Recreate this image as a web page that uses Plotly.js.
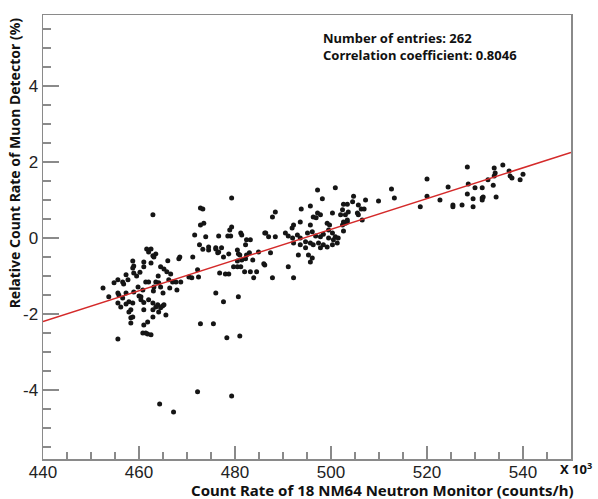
<!DOCTYPE html>
<html>
<head>
<meta charset="utf-8">
<script src="https://cdn.plot.ly/plotly-3.0.1.min.js"></script>
<style>html,body{margin:0;padding:0;background:#fff;}#chart{width:598px;height:499px;}</style>
</head>
<body>
<div id="chart"></div>
<script>
// Neutron monitor count rate (x10^3 counts/h) for each entry
const neutronRate = [
  // low-rate cluster
  455.6,454.8,456.8,457.7,457.3,458.9,458.9,458.7,461.0,462.5,461.0,464.5,465.2,465.8,466.6,461.6,462.5,463.5,462.9,461.4,
  462.0,463.5,464.1,466.2,467.7,468.7,470.4,472.4,472.2,468.5,468.3,471.2,467.9,466.4,464.5,463.1,459.8,458.9,457.3,455.6,
  452.5,453.7,455.6,456.2,457.9,458.3,460.0,460.4,462.0,462.9,461.0,462.9,463.9,464.9,465.6,464.1,458.3,458.3,462.9,461.8,
  461.0,460.8,461.8,462.5,455.6,462.9,
  460.8,456.6,467.0,455.8,456.6,457.3,458.7,460.4,461.0,463.5,464.5,465.2,457.9,458.7,461.4,462.0,463.1,458.7,459.5,460.2,
  466.0,464.0,465.0,463.0,
  // mid-low region
  471.6,473.9,476.6,478.5,472.6,474.5,476.0,476.4,477.6,476.0,477.6,472.8,475.5,478.3,478.0,476.8,481.0,472.2,479.3,464.3,
  467.2,479.3,472.8,473.3,473.5,472.8,479.3,481.2,481.4,482.4,483.2,482.2,480.5,480.7,482.4,483.0,483.7,486.2,486.2,479.7,
  480.5,481.2,482.0,483.2,484.5,483.9,478.7,480.5,481.4,480.7,484.9,487.8,492.2,491.1,478.9,479.1,473.3,474.5,476.0,476.6,
  477.2,478.7,481.0,482.2,471.0,
  // central region
  497.2,500.9,498.2,503.4,488.4,487.8,493.8,495.7,497.2,497.8,496.3,496.9,500.3,502.0,493.6,492.2,491.9,495.7,499.2,499.7,
  503.4,503.0,486.4,487.0,488.4,490.5,491.1,492.0,493.0,493.6,495.1,496.1,496.8,497.8,498.4,499.5,500.3,500.9,501.5,499.5,
  500.5,492.2,493.6,494.7,495.7,496.3,497.4,498.4,493.2,495.3,496.1,495.7,487.4,486.0,494.7,497.8,499.2,500.3,501.3,
  // upper-mid region
  520.0,512.6,513.2,504.7,507.2,509.9,520.0,518.6,522.7,502.6,504.5,505.7,506.3,506.9,502.4,503.6,503.0,505.5,505.7,506.5,
  502.6,503.4,502.4,502.6,
  // high-rate region
  528.4,534.0,535.8,534.2,534.0,537.1,537.3,537.7,540.0,539.4,524.4,528.6,532.7,533.8,530.0,531.5,528.4,529.6,531.5,531.7,
  531.5,534.4,525.4,525.4,527.3,529.6
];
// Relative count rate of muon detector (%) for each entry
const muonRelative = [
  -1.10,-1.18,-1.21,-1.10,-0.97,-0.92,-0.74,-0.61,-0.63,-0.66,-0.76,-0.76,-0.82,-0.89,-0.95,-0.29,-0.29,-0.42,-0.47,-1.16,
  -1.16,-1.16,-1.18,-1.10,-1.16,-1.16,-1.03,-1.03,-0.84,-0.50,-0.55,-0.50,-1.37,-1.32,-1.29,-1.29,-1.29,-1.42,-1.45,-1.45,
  -1.32,-1.55,-1.71,-1.82,-1.68,-1.89,-1.53,-1.63,-1.63,-1.71,-1.89,-1.89,-1.76,-1.79,-2.03,-1.95,-2.10,-2.24,-2.08,-2.21,
  -2.29,-2.50,-2.53,-2.55,-2.66,0.61,
  -1.37,-1.16,-1.16,-1.50,-1.58,-1.74,-1.71,-1.55,-1.70,-1.82,-1.84,-1.76,-1.95,-2.08,-2.50,-0.37,-0.50,-0.79,-1.00,-0.90,
  -0.60,-1.00,-1.45,-1.40,
  0.08,0.03,0.05,0.05,-0.18,-0.24,-0.29,-0.39,-0.50,-1.45,-1.68,-2.26,-2.26,-2.63,-0.95,-0.92,-2.58,-4.05,-4.16,-4.37,
  -4.58,1.05,0.79,0.76,0.39,0.34,0.29,0.13,0.08,-0.05,-0.05,-0.18,-0.32,-0.42,-0.45,-0.39,-0.58,0.13,-0.71,-0.76,
  -0.76,-0.76,-0.89,-0.89,-0.89,-1.05,-0.95,-0.61,-0.58,-1.55,-0.37,-1.05,-1.05,-0.76,0.21,0.05,-0.30,-0.32,-0.26,-0.37,
  -0.26,-0.42,-0.45,-0.55,-1.05,
  1.26,1.32,1.03,0.89,0.68,0.55,0.76,0.84,0.66,0.61,0.55,0.53,0.66,0.61,0.42,0.34,0.26,0.34,0.39,0.34,
  0.47,0.39,0.13,0.03,0.03,0.13,0.05,0.00,0.08,0.00,0.13,0.16,0.05,0.03,0.10,0.21,0.13,0.03,0.00,0.00,
  -0.05,-0.13,-0.18,-0.10,-0.13,-0.18,-0.13,-0.18,-0.45,-0.45,-0.53,-0.63,-0.39,-0.68,-0.26,-0.26,-0.24,-0.18,-0.13,
  1.55,1.29,1.05,1.10,1.00,0.97,1.10,0.82,1.00,0.89,0.95,0.87,0.76,0.76,0.74,0.68,0.61,0.66,0.61,0.47,
  0.42,0.42,0.34,0.18,
  1.87,1.84,1.92,1.71,1.63,1.76,1.63,1.58,1.68,1.53,1.34,1.42,1.53,1.39,1.32,1.32,1.16,1.03,1.05,1.08,
  1.00,1.08,0.87,0.82,0.87,0.82
];
// Linear fit line end points
const fitX = [440, 550];
const fitY = [-2.2, 2.25];

const xTickVals = [440, 460, 480, 500, 520, 540];
const yTickVals = [-4, -2, 0, 2, 4];
const statsLines = ["Number of entries: 262", "Correlation coefficient: 0.8046"];
const xTitle = "Count Rate of 18 NM64 Neutron Monitor (counts/h)";
const yTitle = "Relative Count Rate of Muon Detector (%)";
const xScaleLabel = "X 10<sup>3</sup>";

const frameColor = '#8a8a8a';
const fontFam = '"Noto Sans", "Open Sans", sans-serif';

const traces = [
  {
    type: 'scatter', mode: 'markers', x: neutronRate, y: muonRelative,
    marker: {color: '#151515', size: 5, line: {width: 0}},
    hoverinfo: 'x+y', showlegend: false
  },
  {
    type: 'scatter', mode: 'lines', x: fitX, y: fitY,
    line: {color: '#d42a2a', width: 1.5},
    hoverinfo: 'skip', showlegend: false
  }
];

const axisCommon = {
  showgrid: false, zeroline: false, showline: true, mirror: true,
  linecolor: frameColor, linewidth: 1.5,
  ticks: 'inside', tickcolor: frameColor, tickwidth: 1.3,
  tickfont: {family: '"Liberation Sans", Arial, sans-serif', size: 17, color: '#222'},
  tickmode: 'array'
};

const layout = {
  width: 598, height: 499,
  margin: {l: 43, r: 27, t: 15, b: 40},
  paper_bgcolor: '#fff', plot_bgcolor: '#fff',
  showlegend: false,
  xaxis: Object.assign({}, axisCommon, {
    range: [440, 550], tickvals: xTickVals, ticktext: xTickVals.map(String),
    ticklen: 13, ticklabelstandoff: -3,
    minor: {dtick: 5, tick0: 440, ticks: 'inside', ticklen: 7, tickcolor: frameColor, tickwidth: 1.3, showgrid: false}
  }),
  yaxis: Object.assign({}, axisCommon, {
    range: [-5.82, 5.87], tickvals: yTickVals, ticktext: yTickVals.map(String),
    ticklen: 16,
    minor: {dtick: 0.5, tick0: 0, ticks: 'inside', ticklen: 8, tickcolor: frameColor, tickwidth: 1.3, showgrid: false}
  }),
  annotations: [
    {xref: 'paper', yref: 'paper', x: 0.526, y: 0.972, xanchor: 'left', yanchor: 'top', align: 'left',
     showarrow: false, text: '<b>' + statsLines.join('<br>') + '</b>',
     font: {family: fontFam, size: 13, color: '#111'}},
    {xref: 'paper', yref: 'paper', x: 1.009, y: -0.07, xanchor: 'right', yanchor: 'middle',
     showarrow: false, text: '<b>' + xTitle + '</b>', font: {family: fontFam, size: 15, color: '#111'}},
    {xref: 'paper', yref: 'paper', x: -0.054, y: 0.667, xanchor: 'center', yanchor: 'middle', textangle: -90,
     showarrow: false, text: '<b>' + yTitle + '</b>', font: {family: fontFam, size: 14, color: '#111'}},
    {xref: 'paper', yref: 'paper', x: 1.01, y: -0.022, xanchor: 'center', yanchor: 'middle',
     showarrow: false, text: '<b>' + xScaleLabel + '</b>', font: {family: fontFam, size: 13, color: '#111'}}
  ]
};

Plotly.newPlot('chart', traces, layout, {displayModeBar: false, staticPlot: true});
</script>
</body>
</html>
